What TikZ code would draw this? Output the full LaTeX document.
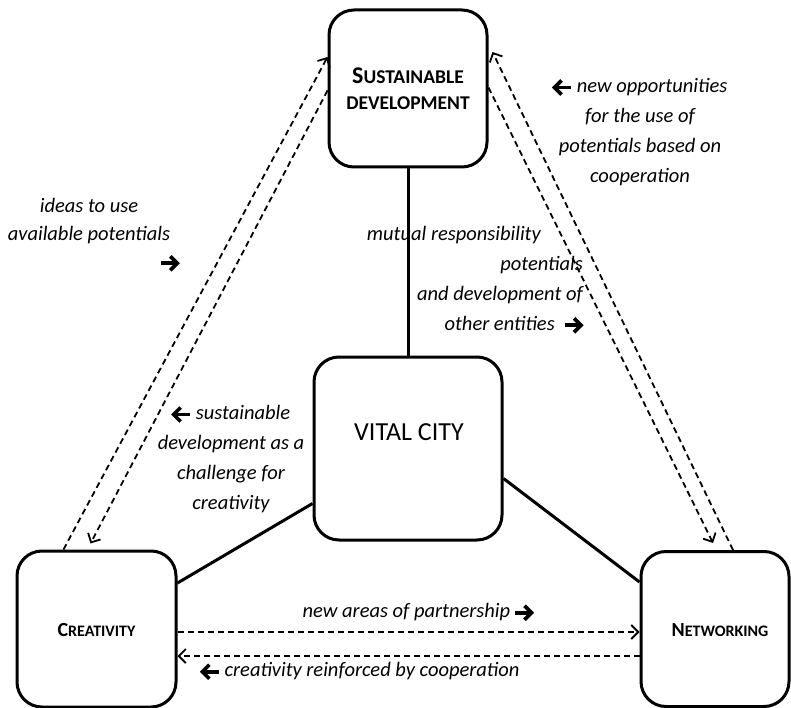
\documentclass[tikz,border=0pt]{standalone}
\usepackage{fontspec}
\setmainfont{Carlito}
\usetikzlibrary{arrows.meta}

\newcommand\rarr{\tikz[baseline=-0.5ex,x=1pt,y=1pt]{\draw[line width=3.6pt,solid,line cap=butt] (0,0)--(15,0);\draw[line width=3.6pt,solid,line join=miter,line cap=butt] (9.5,7)--(16.5,0)--(9.5,-7);}}
\newcommand\larr{\tikz[baseline=-0.5ex,x=1pt,y=1pt]{\draw[line width=3.6pt,solid,line cap=butt] (1.5,0)--(16.5,0);\draw[line width=3.6pt,solid,line join=miter,line cap=butt] (7,7)--(0,0)--(7,-7);}}

\begin{document}
\begin{tikzpicture}[x=1pt,y=-1pt,
  box/.style={draw, line width=3pt, rounded corners=25pt, inner sep=0pt},
  boxtext/.style={font=\bfseries\fontsize{16}{20}\selectfont, inner sep=0pt, align=center},
  lbl/.style={font=\itshape\fontsize{20.5}{30}\selectfont, inner sep=0pt},
  sline/.style={line width=3pt},
  dline/.style={line width=1.8pt, dash pattern=on 6pt off 4pt, -{Straight Barb[length=7pt,width=14pt]}}]
\fill[white] (0,0) rectangle (791,708);
\useasboundingbox (0,0) rectangle (791,708);

% boxes
\node[box, minimum width=158pt, minimum height=157pt] (sd) at (408,88.5) {};
\node[box, minimum width=188pt, minimum height=183pt] (vc) at (408,448.5) {};
\node[box, minimum width=159pt, minimum height=156pt] (crea) at (96.5,629) {};
\node[box, minimum width=148pt, minimum height=155pt] (net) at (715,629) {};

% box texts
\node[boxtext, font=\bfseries\fontsize{19.5}{26}\selectfont] (sdt) at (408,89) {{\fontsize{24}{26}\selectfont S}USTAINABLE\\DEVELOPMENT};
\node[inner sep=0pt, font=\fontsize{26}{30}\selectfont] (vct) at (409,432) {VITAL CITY};
\node[boxtext] (ct) at (96.5,630) {{\fontsize{20}{20}\selectfont C}REATIVITY};
\node[boxtext] (nt) at (720,630) {{\fontsize{20}{20}\selectfont N}ETWORKING};

% solid connectors
\draw[sline] (sd.south) -- (vc.north);
\draw[sline] ([yshift=-55pt]vc.west) -- ([yshift=46pt]crea.east);
\draw[sline] ([yshift=-30pt]vc.east) -- ([yshift=47pt]net.west);

% dashed connectors
\draw[dline] ([xshift=-33pt]crea.north) -- ([yshift=31.5pt]sd.west);
\draw[dline] ([yshift=-2pt]sd.west) -- ([xshift=-6pt,yshift=6pt]crea.north);
\draw[dline] ([yshift=1pt]sd.east) -- ([xshift=-2pt,yshift=7pt]net.north);
\draw[dline] ([xshift=18pt]net.north) -- ([xshift=4pt,yshift=36.5pt]sd.east);
\draw[dline] ([yshift=-3pt]crea.east) -- ([yshift=-3pt]net.west);
\draw[dline] ([yshift=-27pt]net.west) -- ([yshift=-27pt]crea.east);

% labels
\node[lbl, align=center, font=\itshape\fontsize{20.5}{28}\selectfont] (l1) at (89,235) {ideas to use\\available potentials\\\hspace*{160pt}\rarr};
\node[lbl, align=center] (l2) at (640,132) {\larr\hspace{4pt}new opportunities\\for the use of\\potentials based on\\cooperation};
\node[lbl, align=right, anchor=east] (l3) at (583,280) {mutual responsibility\hspace*{42pt}\\potentials\hspace*{42pt}\\and development of\hspace*{19pt}\\other entities\hspace{8pt}\rarr};
\node[lbl, align=center] (l4) at (231,459) {\larr\hspace{4pt}sustainable\\development as a\\challenge for\\creativity};
\node[lbl] (l5) at (418,612.5) {new areas of partnership\hspace{3pt}\rarr};
\node[lbl] (l6) at (360,671.5) {\larr\hspace{4pt}creativity reinforced by cooperation};
\end{tikzpicture}
\end{document}
